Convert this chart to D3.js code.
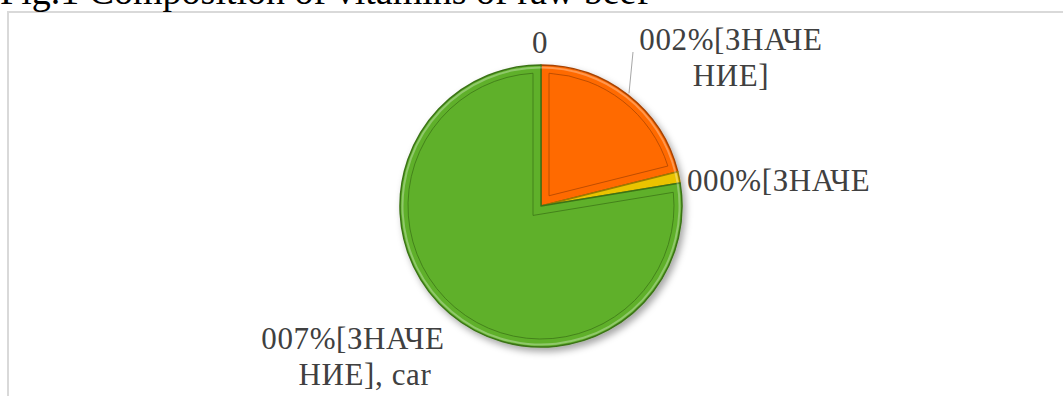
<!DOCTYPE html>
<html>
<head>
<meta charset="utf-8">
<script src="https://cdn.jsdelivr.net/npm/d3@7"></script>
<style>
  html, body { margin: 0; padding: 0; background: #ffffff; overflow: hidden; }
  svg { display: block; }
  text { font-family: "Liberation Serif", "Times New Roman", "DejaVu Serif", serif; }
</style>
</head>
<body>
<svg id="chart" width="1063" height="396"></svg>
<script>
// ---- data ----
const titleText = "Fig.1 Composition of vitamins of raw beef";
const values = [0, 21.1, 1.3, 77.6];
const colors = ["#7f7f7f", "#ff6a00", "#eac300", "#5fb02a"];
const edgeColors = ["#555555", "#a84300", "#9a7d00", "#3b7316"];
const labelLines = [
  ["0"],
  ["002%[ЗНАЧЕ", "НИЕ]"],
  ["000%[ЗНАЧЕ"],
  ["007%[ЗНАЧЕ", "НИЕ], car"]
];

// ---- layout ----
const W = 1063, H = 396;
const cx = 541, cy = 206, R = 141;
const inset = 8;
const labelPos = [
  { x: 540, y: 53, anchor: "middle", lh: 36 },
  { x: 731, y: 50, anchor: "middle", lh: 36 },
  { x: 687, y: 191, anchor: "start", lh: 36 },
  { x: 353, y: 349, anchor: "middle", lh: 36, dx2: 12 }
];

const svg = d3.select("#chart");
const defs = svg.append("defs");

const f = defs.append("filter").attr("id", "shadow")
  .attr("x", "-20%").attr("y", "-20%").attr("width", "140%").attr("height", "140%");
f.append("feDropShadow").attr("dx", 3).attr("dy", 4).attr("stdDeviation", 3.5)
  .attr("flood-color", "#000").attr("flood-opacity", 0.35);

// frame
svg.append("rect").attr("x", 8).attr("y", 12).attr("width", W + 20).attr("height", H + 20)
  .attr("fill", "#ffffff").attr("stroke", "#d9d9d9").attr("stroke-width", 2);

// title
svg.append("text").attr("x", 0).attr("y", 4)
  .attr("font-size", 38).attr("fill", "#000")
  .text(titleText);

const pie = d3.pie().sort(null).value(d => d)(values);
const arc = d3.arc().innerRadius(0).outerRadius(R);

const g = svg.append("g").attr("transform", `translate(${cx},${cy})`);

function insetPath(a0, a1, d, r) {
  const th = a1 - a0;
  if (th < 0.2) return null;
  const mid = (a0 + a1) / 2;
  const k = d / Math.sin(th / 2);
  const apex = [Math.sin(mid) * k, -Math.cos(mid) * k];
  const Rp = r - d;
  const da = Math.asin(d / Rp);
  const s = a0 + da, e = a1 - da;
  const P = [Math.sin(s) * Rp, -Math.cos(s) * Rp];
  const Q = [Math.sin(e) * Rp, -Math.cos(e) * Rp];
  const large = (e - s) > Math.PI ? 1 : 0;
  return `M${apex[0]},${apex[1]}L${P[0]},${P[1]}A${Rp},${Rp} 0 ${large} 1 ${Q[0]},${Q[1]}Z`;
}

const slices = g.append("g").attr("filter", "url(#shadow)");
slices.selectAll("path.slice").data(pie.filter(d => d.value > 0)).join("path")
  .attr("class", "slice")
  .attr("d", arc)
  .attr("fill", d => colors[d.index])
  .attr("stroke", d => edgeColors[d.index])
  .attr("stroke-width", 1.5)
  .attr("stroke-linejoin", "round");

const rimArc = d3.arc().innerRadius(R - 3.5).outerRadius(R - 1.5);
g.selectAll("path.rim").data(pie.filter(d => d.value > 0)).join("path")
  .attr("class", "rim")
  .attr("d", rimArc)
  .attr("fill", "#ffffff").attr("fill-opacity", 0.3);

g.selectAll("path.bevel").data(pie.filter(d => d.value > 0)).join("path")
  .attr("class", "bevel")
  .attr("d", d => insetPath(d.startAngle, d.endAngle, inset, R))
  .attr("fill", "none")
  .attr("stroke", d => edgeColors[d.index])
  .attr("stroke-opacity", 0.75)
  .attr("stroke-width", 1);

const oc = pie[1];
const om = (oc.startAngle + oc.endAngle) / 2;
g.append("line")
  .attr("x1", Math.sin(om) * (R + 2)).attr("y1", -Math.cos(om) * (R + 2))
  .attr("x2", 633 - cx).attr("y2", 52 - cy)
  .attr("stroke", "#a6a6a6").attr("stroke-width", 1);

labelLines.forEach((lines, i) => {
  const p = labelPos[i];
  const t = svg.append("text")
    .attr("font-size", 31).attr("fill", "#404040")
    .attr("letter-spacing", 0.6)
    .attr("text-anchor", p.anchor);
  lines.forEach((ln, j) => {
    t.append("tspan").attr("x", p.x + (j > 0 && p.dx2 ? p.dx2 : 0)).attr("y", p.y + j * p.lh).text(ln);
  });
});
</script>
</body>
</html>
